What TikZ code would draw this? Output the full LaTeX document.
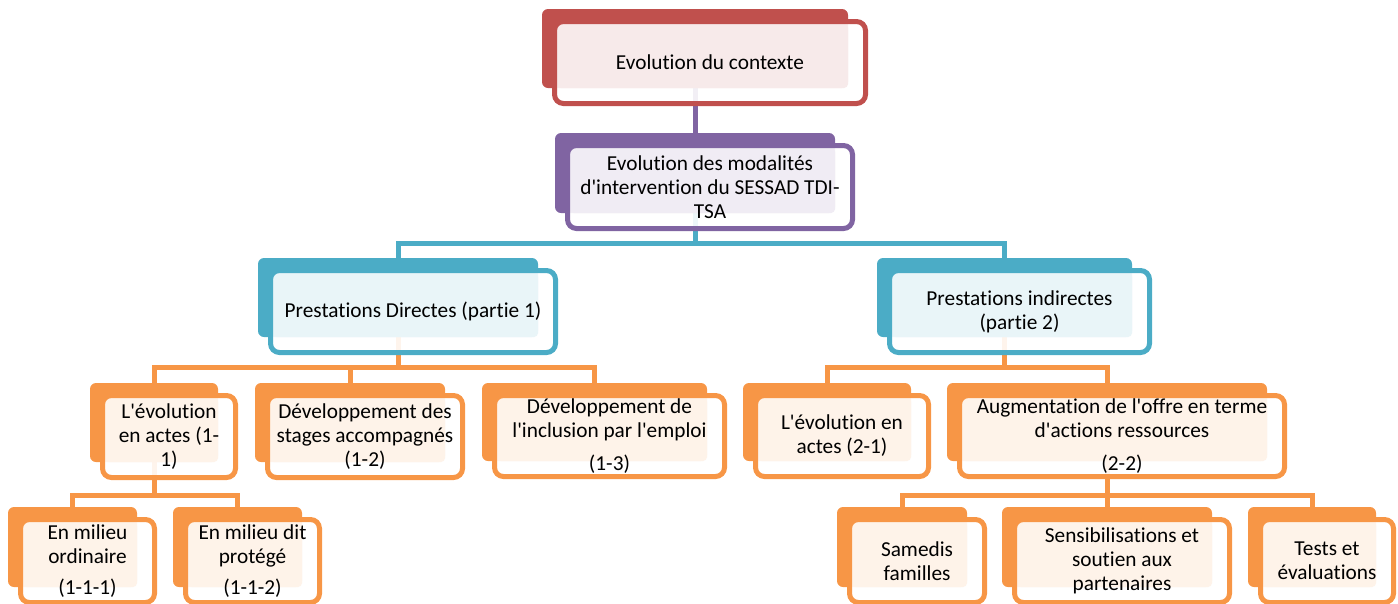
\documentclass[tikz,border=0pt]{standalone}
\usepackage{fontspec}
\setmainfont{Carlito}[Ligatures={TeXOff,CommonOff}]
\usepackage{tikz}
\usetikzlibrary{backgrounds}

\definecolor{ctxred}{HTML}{C0504D}
\definecolor{modviolet}{HTML}{8064A2}
\definecolor{partcyan}{HTML}{4BACC6}
\definecolor{actorange}{HTML}{F79646}

\tikzset{
    backbox/.style={rectangle, rounded corners=6pt, inner sep=0pt, outer sep=0pt},
    framebox/.style={rectangle, rounded corners=9pt, line width=5pt, inner sep=0pt,
        outer sep=0pt, align=center, font=\fontsize{21.3}{24}\selectfont},
    link/.style={line width=5pt, draw=#1},
}

% back block, white frame, tint, then outlined frame with text
\newcommand\boxitem[7]{%
    \node[backbox, fill=#2, minimum width={#5-#3}, minimum height={#6-#4}]
        (#1) at ({(#3+#5)/2},{(#4+#6)/2}) {};
    \fill[white, fill opacity=0.9, rounded corners=8pt]
        (#3+12.5,#4+12.5) rectangle (#5+17.5,#6+15.5);
    \fill[#2!12, rounded corners=4pt] (#3+15,#4+15) rectangle (#5,#6);
    \node[framebox, draw=#2, minimum width={#5-#3+5}, minimum height={#6-#4+3}]
        (#1-f) at ({(#3+#5)/2+15},{(#4+#6)/2+14}) {#7};
}

\begin{document}
\begin{tikzpicture}[x=1pt, y=-1pt]
\useasboundingbox (0,0) rectangle (1398,603);

\boxitem{ctx}{ctxred}{542}{9}{848}{88}{Evolution du contexte}
\boxitem{mod}{modviolet}{555}{133}{835}{213}{Evolution des modalités\\ d'intervention du SESSAD TDI-\\ TSA}

\boxitem{dir}{partcyan}{258}{258}{538}{337}{Prestations Directes (partie 1)}
\boxitem{ind}{partcyan}{877}{258}{1132}{337}{Prestations indirectes\\ (partie 2)}

\boxitem{act1}{actorange}{90}{383}{218}{462}{L'évolution\\ en actes (1-\\ 1)}
\boxitem{stg}{actorange}{255}{383}{445}{462}{Développement des\\ stages accompagnés\\ (1-2)}
\boxitem{incl}{actorange}{482}{383}{707}{461}{Développement de\\ l'inclusion par l'emploi\\[9pt] (1-3)}
\boxitem{act2}{actorange}{743}{383}{911}{461}{L'évolution en\\ actes (2-1)}
\boxitem{res}{actorange}{947}{383}{1267}{461}{Augmentation de l'offre en terme\\ d'actions ressources\\[9pt] (2-2)}

\boxitem{ord}{actorange}{8}{507}{137}{587}{En milieu\\ ordinaire\\[7pt] (1-1-1)}
\boxitem{prot}{actorange}{173}{507}{302}{587}{En milieu dit\\ protégé\\[7pt] (1-1-2)}
\boxitem{sam}{actorange}{837}{507}{967}{587}{Samedis\\ familles}
\boxitem{sens}{actorange}{1002}{507}{1212}{587}{Sensibilisations et\\ soutien aux\\ partenaires}
\boxitem{tests}{actorange}{1248}{507}{1376}{587}{Tests et\\ évaluations}

% connectors go under the boxes
\begin{pgfonlayer}{background}
\draw[link=modviolet] (ctx.south) -- (mod.north);
\foreach \c in {dir,ind}
    \draw[link=partcyan] (mod.south) -- ++(0,30) -| (\c.north);
\foreach \c in {act1,stg,incl}
    \draw[link=actorange] (dir.south) -- ++(0,30) -| (\c.north);
\foreach \c in {act2,res}
    \draw[link=actorange] (ind.south) -- ++(0,30) -| (\c.north);
\foreach \c in {ord,prot}
    \draw[link=actorange] (act1.south) -- ++(0,33) -| (\c.north);
\foreach \c in {sam,sens,tests}
    \draw[link=actorange] (res.south) -- ++(0,34) -| (\c.north);
\end{pgfonlayer}

\end{tikzpicture}
\end{document}
